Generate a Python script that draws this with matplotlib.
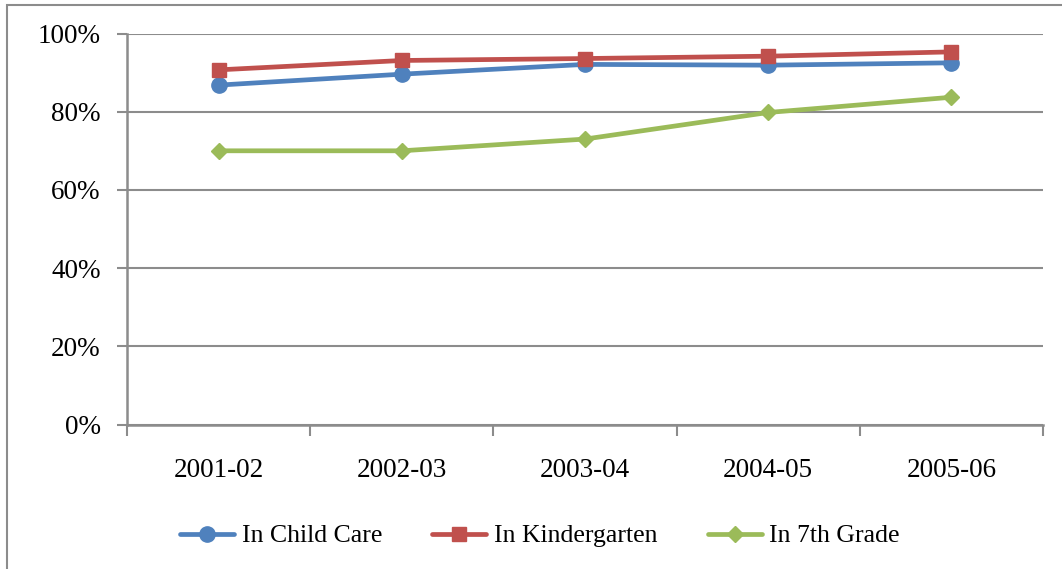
import matplotlib
matplotlib.use("Agg")
import matplotlib.pyplot as plt
from matplotlib.patches import Rectangle
from matplotlib.ticker import FixedLocator, FuncFormatter

plt.rcParams['font.family'] = ['Liberation Serif', 'DejaVu Serif']

years = ["2001-02", "2002-03", "2003-04", "2004-05", "2005-06"]
child_care = [86.8, 89.6, 92.1, 91.9, 92.5]
kindergarten = [90.7, 93.1, 93.6, 94.2, 95.3]
seventh_grade = [70.0, 70.0, 73.0, 79.8, 83.7]

series = [
    ("In Child Care", child_care, "#4F81BD", "o", 11),
    ("In Kindergarten", kindergarten, "#C0504D", "s", 10.5),
    ("In 7th Grade", seventh_grade, "#9BBB59", "D", 8.5),
]

W, H = 1062, 569
fig = plt.figure(figsize=(W / 100, H / 100), dpi=100)
fig.patch.set_facecolor("white")

# outer chart frame
fig.patches.append(Rectangle((7 / W, -0.1), 1.2, 1 - 5 / H + 0.1,
                             transform=fig.transFigure, fill=False,
                             edgecolor="#8c8c8c", linewidth=1.5))

left, right, top, bottom = 127, 1043, 33.5, 424.5
ax = fig.add_axes([left / W, 1 - bottom / H, (right - left) / W, (bottom - top) / H])

x = list(range(len(years)))
for name, vals, color, marker, ms in series:
    ax.plot(x, vals, color=color, linewidth=3.4, marker=marker, markersize=ms,
            markeredgecolor=color, label=name, solid_capstyle="round", zorder=3)

ax.set_xlim(-0.5, len(years) - 0.5)
ax.set_ylim(0, 100)

ax.yaxis.set_major_locator(FixedLocator([0, 20, 40, 60, 80, 100]))
ax.yaxis.set_major_formatter(FuncFormatter(lambda v, p: f"{v:.0f}%"))
ax.grid(axis="y", color="#8c8c8c", linewidth=1.5, zorder=0)
ax.set_axisbelow(True)

ax.set_xticks(x)
ax.set_xticklabels(years)
ax.set_xticks([i - 0.5 for i in range(len(years) + 1)], minor=True)
ax.tick_params(axis="x", which="major", length=0, pad=24, labelsize=19.5)
ax.tick_params(axis="x", which="minor", length=8, width=1.5, color="#8c8c8c", direction="out")
ax.tick_params(axis="y", length=7, width=1.5, color="#8c8c8c", pad=12, labelsize=19.5)

for s in ("top", "right"):
    ax.spines[s].set_visible(False)
for s in ("left", "bottom"):
    ax.spines[s].set_color("#8c8c8c")
    ax.spines[s].set_linewidth(1.8)

leg = fig.legend(loc="center", bbox_to_anchor=(540 / W, 1 - 536 / H), ncol=3,
                 frameon=False, fontsize=18.5, handlelength=2.1, handletextpad=0.3,
                 columnspacing=1.95)

fig.savefig("out.png", dpi=100, facecolor="white")
